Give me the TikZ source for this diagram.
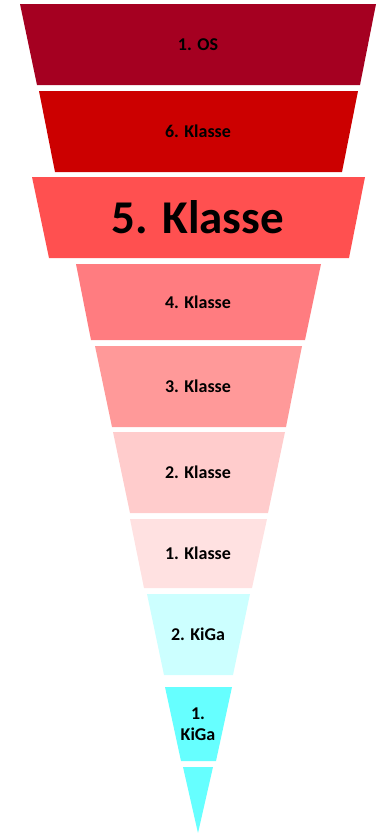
\documentclass[tikz,border=0pt]{standalone}
\usepackage{fontspec}
\setmainfont{Carlito}
\definecolor{c1}{HTML}{A50021}
\definecolor{c2}{HTML}{CC0000}
\definecolor{c3}{HTML}{FF5050}
\definecolor{c4}{HTML}{FF7C80}
\definecolor{c5}{HTML}{FF9999}
\definecolor{c6}{HTML}{FFCCCC}
\definecolor{c7}{HTML}{FFE1E1}
\definecolor{c8}{HTML}{CCFFFF}
\definecolor{c9}{HTML}{66FFFF}
\tikzset{
  lbl/.style={font=\fontsize{18}{21}\selectfont\bfseries, text=black, inner sep=0pt, align=center},
  biglbl/.style={font=\fontsize{47}{52}\selectfont\bfseries, text=black, inner sep=0pt}
}
\begin{document}
\begin{tikzpicture}[x=1pt,y=-1pt]
\useasboundingbox (0,0) rectangle (379,833);
\fill[c1] (20,4) -- (376,4) -- (360,85) -- (37,85) -- cycle;
\fill[c2] (39,91) -- (358,91) -- (342,172) -- (55,172) -- cycle;
\fill[c3] (32,177) -- (365,177) -- (349,258) -- (49,258) -- cycle;
\fill[c4] (76,264) -- (321,264) -- (305,340) -- (91,340) -- cycle;
\fill[c5] (95,346) -- (302,346) -- (286,427) -- (112,427) -- cycle;
\fill[c6] (113,432) -- (285,432) -- (268,513) -- (130,513) -- cycle;
\fill[c7] (130,519) -- (267,519) -- (252,588) -- (144,588) -- cycle;
\fill[c8] (147,594) -- (250,594) -- (233,675) -- (164,675) -- cycle;
\fill[c9] (165,687) -- (232,687) -- (216,761) -- (181,761) -- cycle;
\fill[c9] (183,767) -- (213,767) -- (198,833) -- cycle;
\node[lbl] (n1) at (198,44.5) {1. OS};
\node[lbl] (n2) at (198,131.5) {6. Klasse};
\node[biglbl] (n3) at (198,217.5) {5. Klasse};
\node[lbl] (n4) at (198,302) {4. Klasse};
\node[lbl] (n5) at (198,386.5) {3. Klasse};
\node[lbl] (n6) at (198,472.5) {2. Klasse};
\node[lbl] (n7) at (198,553.5) {1. Klasse};
\node[lbl] (n8) at (198,634.5) {2. KiGa};
\node[lbl] (n9) at (198,724) {1.\\KiGa};
\end{tikzpicture}
\end{document}
